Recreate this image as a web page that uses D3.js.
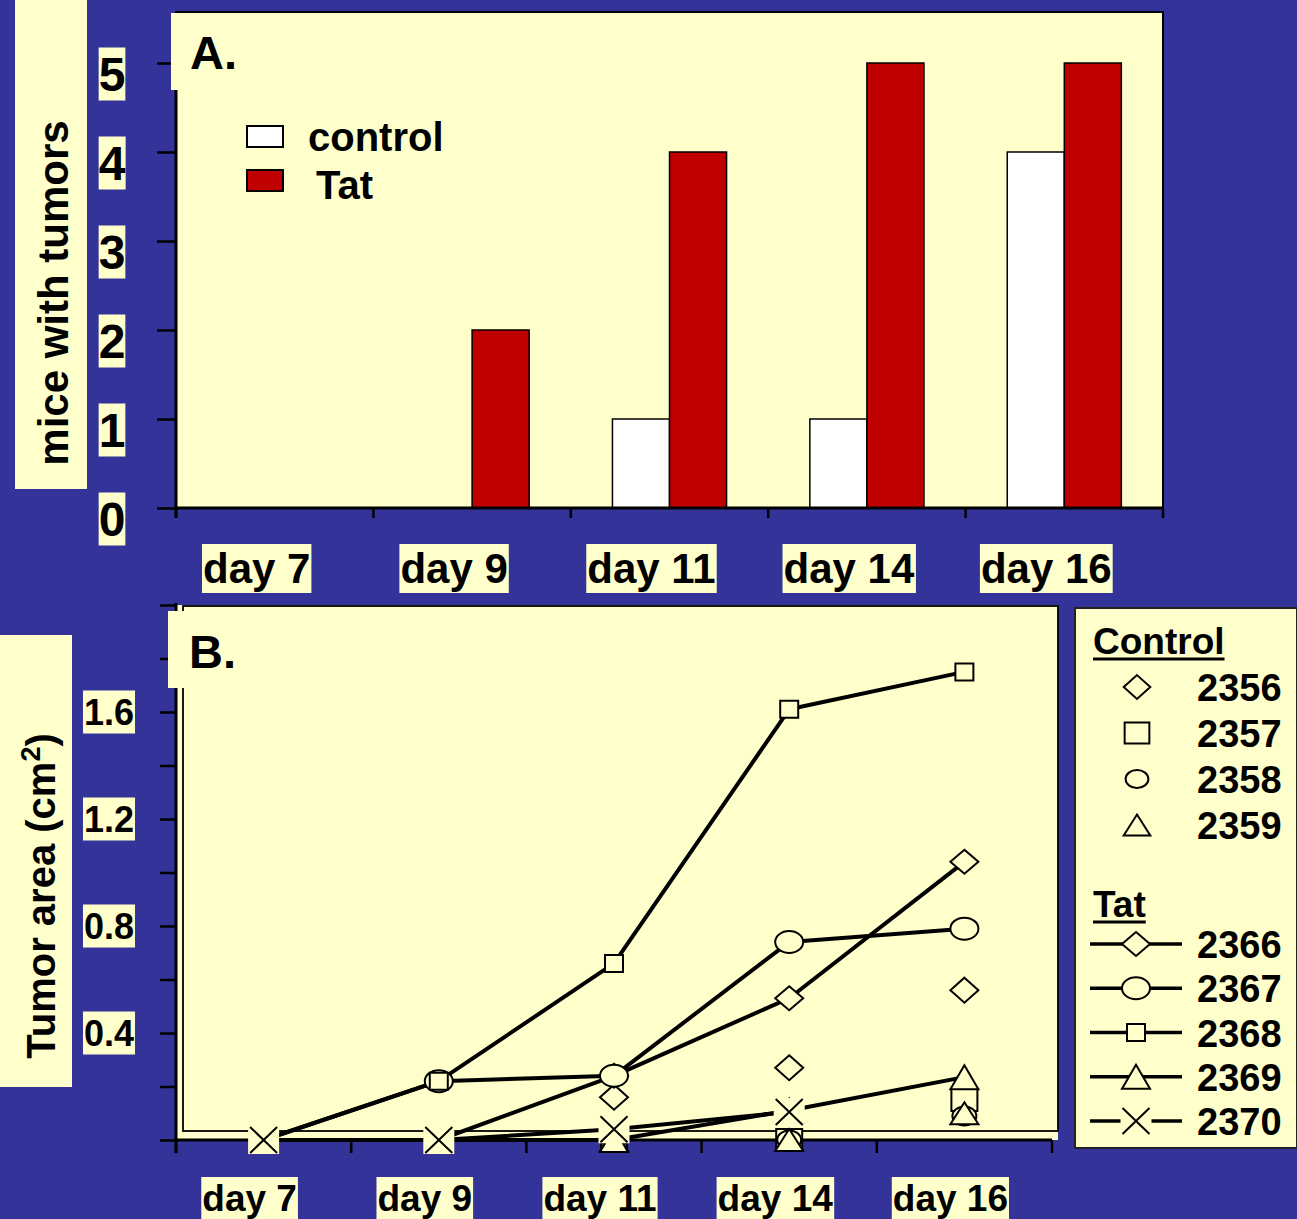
<!DOCTYPE html>
<html><head><meta charset="utf-8">
<script src="https://cdn.jsdelivr.net/npm/d3@7"></script>
<style>body{margin:0;background:#333399;} svg{display:block}</style>
</head><body><svg id="c" width="1297" height="1219"></svg>
<script>
// ---------- DATA ----------
const days = ["day 7", "day 9", "day 11", "day 14", "day 16"];
const barSeries = ["control", "Tat"];
const controlMice = [0, 0, 1, 1, 4];
const tatMice = [0, 2, 4, 5, 5];
const yTicksA = [0, 1, 2, 3, 4, 5];

const controlIds = ["2356", "2357", "2358", "2359"];
const c2356 = [0, 0, 0.16, 0.27, 0.56];
const c2357 = [0, 0, 0, 0, 0.15];
const c2358 = [0, 0, 0, 0, 0.09];
const c2359 = [0, 0, 0, 0, 0.10];
const tatIds = ["2366", "2367", "2368", "2369", "2370"];
const t2366 = [0, 0, 0.24, 0.53, 1.04];
const t2367 = [0, 0.22, 0.24, 0.74, 0.79];
const t2368 = [0, 0.22, 0.66, 1.61, 1.75];
const t2369 = [0, 0, 0, 0.11, 0.235];
const t2370 = [0, 0, 0.04, 0.105, null];
const yTicksB = [0, 0.2, 0.4, 0.6, 0.8, 1.0, 1.2, 1.4, 1.6, 1.8, 2.0];
const yLabelsB = [0.4, 0.8, 1.2, 1.6];

// ---------- STYLE ----------
const BLUE = "#333399", PALE = "#FFFFCC", RED = "#C00000";
const FONT = "'Liberation Sans', Arial, Helvetica, sans-serif";
const markerStyle = {
  "2356": {type: "diamond", w: 28, h: 25},
  "2357": {type: "square", w: 26, h: 22},
  "2358": {type: "circle", w: 24, h: 19},
  "2359": {type: "triangle", w: 28, h: 22},
  "2366": {type: "diamond", w: 28, h: 24},
  "2367": {type: "circle", w: 28, h: 22},
  "2368": {type: "square", w: 18, h: 17},
  "2369": {type: "triangle", w: 28, h: 24},
  "2370": {type: "x", w: 27, h: 26}
};

const svg = d3.select("#c");
svg.append("rect").attr("width", 1297).attr("height", 1219).attr("fill", BLUE);

function boxText(g, x, y, txt, size, opts = {}) {
  const t = g.append("text").attr("x", x).attr("y", y)
    .attr("font-family", FONT).attr("font-weight", "bold").attr("font-size", size)
    .attr("text-anchor", opts.anchor || "middle")
    .attr("fill", "#000").text(txt);
  if (opts.central) t.attr("dominant-baseline", "central");
  const bb = t.node().getBBox();
  const p = opts.pad || [1, 0];
  g.insert("rect", () => t.node())
    .attr("x", bb.x - p[0]).attr("y", bb.y - p[1])
    .attr("width", bb.width + 2 * p[0]).attr("height", bb.height + 2 * p[1])
    .attr("fill", PALE);
  return t;
}

function markerPath(type, w, h) {
  const a = w / 2, b = h / 2;
  switch (type) {
    case "diamond": return `M0,${-b}L${a},0L0,${b}L${-a},0Z`;
    case "square": return `M${-a},${-b}H${a}V${b}H${-a}Z`;
    case "circle": return `M${-a},0A${a},${b} 0 1,0 ${a},0A${a},${b} 0 1,0 ${-a},0Z`;
    case "triangle": return `M0,${-b}L${a},${b}L${-a},${b}Z`;
    case "x": return `M${-a},${-b}L${a},${b}M${a},${-b}L${-a},${b}`;
  }
}
function drawMarker(g, id, x, y, scale = 1) {
  const st = markerStyle[id];
  const m = g.append("g").attr("transform", `translate(${x},${y})`);
  if (st.type === "x") {
    m.append("rect").attr("x", -st.w / 2 - 2).attr("y", -st.h / 2 - 1)
      .attr("width", st.w + 4).attr("height", st.h + 2).attr("fill", PALE);
  }
  m.append("path").attr("d", markerPath(st.type, st.w * scale, st.h * scale))
    .attr("fill", st.type === "x" ? "none" : PALE)
    .attr("stroke", "#000").attr("stroke-width", 2);
  return m;
}

// ================= PANEL A =================
const gA = svg.append("g");
const xA = d3.scaleBand().domain(days).range([176, 1163]);
const xSubA = d3.scaleBand().domain(barSeries).range([0, xA.bandwidth()]).paddingOuter(0.73);
const yA = d3.scaleLinear().domain([0, 5]).range([508, 63]);

// y-label box
gA.append("rect").attr("x", 15).attr("y", 0).attr("width", 72).attr("height", 489).attr("fill", PALE);
gA.append("text").attr("transform", "translate(68,293) rotate(-90)")
  .attr("text-anchor", "middle").attr("font-family", FONT).attr("font-weight", "bold")
  .attr("font-size", 42).text("mice with tumors");

// plot area
gA.append("rect").attr("x", 176).attr("y", 12).attr("width", 987).attr("height", 496)
  .attr("fill", PALE).attr("stroke", "#000").attr("stroke-width", 2);

const barData = days.flatMap((d, i) => [
  {day: d, s: "control", v: controlMice[i]},
  {day: d, s: "Tat", v: tatMice[i]}
]).filter(d => d.v > 0);
gA.selectAll("rect.bar").data(barData).join("rect").attr("class", "bar")
  .attr("x", d => xA(d.day) + xSubA(d.s))
  .attr("y", d => yA(d.v))
  .attr("width", xSubA.bandwidth())
  .attr("height", d => yA(0) - yA(d.v))
  .attr("fill", d => d.s === "Tat" ? RED : "#FFFFFF")
  .attr("stroke", "#000").attr("stroke-width", 1.5);

// y axis A
const axA = gA.append("g").attr("transform", "translate(176,0)")
  .call(d3.axisLeft(yA).tickValues(yTicksA).tickSize(19).tickSizeOuter(0).tickFormat(""));
axA.selectAll("line").attr("stroke", "#000").attr("stroke-width", 2.5);
axA.select(".domain").remove();
gA.append("line").attr("x1", 176).attr("x2", 176).attr("y1", 30).attr("y2", 518)
  .attr("stroke", "#000").attr("stroke-width", 3);
// x axis A
gA.append("line").attr("x1", 176).attr("x2", 1163).attr("y1", 508).attr("y2", 508)
  .attr("stroke", "#000").attr("stroke-width", 3);
const edgesA = days.map(d => xA(d)).concat([xA.range()[1]]);
gA.selectAll("line.xt").data(edgesA).join("line").attr("class", "xt")
  .attr("x1", d => d).attr("x2", d => d).attr("y1", 508).attr("y2", 518)
  .attr("stroke", "#000").attr("stroke-width", 2.5);

// tick labels
yTicksA.forEach(v => boxText(gA, 112, yA(v) + 11, String(v), 48, {central: true, pad: [0, 0]}));
days.forEach(d => boxText(gA, xA(d) + xA.bandwidth() / 2 - 18, 583, d, 42, {pad: [1, 1]}));

// "A." box
gA.append("rect").attr("x", 171).attr("y", 13).attr("width", 87).attr("height", 77).attr("fill", PALE);
gA.append("text").attr("x", 190).attr("y", 69).attr("font-family", FONT).attr("font-weight", "bold")
  .attr("font-size", 47).text("A.");

// legend A
const legA = gA.append("g");
barSeries.forEach((s, i) => {
  const y = 126 + i * 44;
  legA.append("rect").attr("x", 247).attr("y", y).attr("width", 36).attr("height", 21)
    .attr("fill", s === "Tat" ? RED : "#FFFFFF").attr("stroke", "#000").attr("stroke-width", 2);
  legA.append("text").attr("x", s === "Tat" ? 316 : 308).attr("y", s === "Tat" ? y + 29 : y + 25)
    .attr("font-family", FONT).attr("font-weight", "bold").attr("font-size", 40).text(s);
});

// ================= PANEL B =================
const gB = svg.append("g");
const xB = d3.scaleBand().domain(days).range([176, 1052]);
const yB = d3.scaleLinear().domain([0, 2]).range([1140, 605]);
const cx = d => xB(d) + xB.bandwidth() / 2;

// y-label box
gB.append("rect").attr("x", 0).attr("y", 635).attr("width", 72).attr("height", 452).attr("fill", PALE);
const yl = gB.append("text").attr("transform", "translate(55,896) rotate(-90)")
  .attr("text-anchor", "middle").attr("font-family", FONT).attr("font-weight", "bold")
  .attr("font-size", 40);
yl.append("tspan").text("Tumor area (cm");
yl.append("tspan").attr("font-size", 27).attr("dy", -15).text("2");
yl.append("tspan").attr("dy", 15).text(")");

// plot area
gB.append("rect").attr("x", 176).attr("y", 605).attr("width", 882).attr("height", 535).attr("fill", PALE);
gB.append("rect").attr("x", 183).attr("y", 606).attr("width", 875).attr("height", 525)
  .attr("fill", "none").attr("stroke", "#000").attr("stroke-width", 1.8);

// axes B
const axB = gB.append("g").attr("transform", "translate(176,0)")
  .call(d3.axisLeft(yB).tickValues(yTicksB).tickSize(16).tickSizeOuter(0).tickFormat(""));
axB.selectAll("line").attr("stroke", "#000").attr("stroke-width", 2.5);
axB.select(".domain").remove();
gB.append("line").attr("x1", 176).attr("x2", 176).attr("y1", 603).attr("y2", 1153)
  .attr("stroke", "#000").attr("stroke-width", 3);
gB.append("line").attr("x1", 176).attr("x2", 1052).attr("y1", 1140).attr("y2", 1140)
  .attr("stroke", "#000").attr("stroke-width", 3);
const edgesB = days.map(d => xB(d)).concat([xB.range()[1]]);
gB.selectAll("line.xt").data(edgesB).join("line").attr("class", "xt")
  .attr("x1", d => d).attr("x2", d => d).attr("y1", 1140).attr("y2", 1153)
  .attr("stroke", "#000").attr("stroke-width", 2.5);

yLabelsB.forEach(v => boxText(gB, 109, yB(v), v.toFixed(1), 36, {central: true, pad: [1, 1]}));
days.forEach(d => boxText(gB, cx(d) - 14, 1211, d, 37, {pad: [1, 1]}));

// series
const controlVals = [c2356, c2357, c2358, c2359];
const tatVals = [t2366, t2367, t2368, t2369, t2370];
const controlSeries = controlIds.map((id, i) => ({id, values: controlVals[i].map((v, j) => ({day: days[j], v}))}));
const tatSeries = tatIds.map((id, i) => ({id, values: tatVals[i].map((v, j) => ({day: days[j], v}))}));

const line = d3.line().defined(d => d.v != null).x(d => cx(d.day)).y(d => yB(d.v));
gB.selectAll("path.tat").data(tatSeries).join("path").attr("class", "tat")
  .attr("d", d => line(d.values)).attr("fill", "none").attr("stroke", "#000")
  .attr("stroke-width", 4).attr("stroke-linejoin", "round");

const gM = gB.append("g");
controlSeries.concat(tatSeries).forEach(s => {
  s.values.filter(d => d.v != null).forEach(d => drawMarker(gM, s.id, cx(d.day), yB(d.v)));
});

// "B." box
gB.append("rect").attr("x", 168).attr("y", 611).attr("width", 92).attr("height", 77).attr("fill", PALE);
gB.append("text").attr("x", 189).attr("y", 668).attr("font-family", FONT).attr("font-weight", "bold")
  .attr("font-size", 47).text("B.");

// legend B
const legB = svg.append("g");
legB.append("rect").attr("x", 1075).attr("y", 608).attr("width", 222).attr("height", 540)
  .attr("fill", PALE).attr("stroke", "#222").attr("stroke-width", 2);
function legHeader(txt, y) {
  const t = legB.append("text").attr("x", 1093).attr("y", y).attr("font-family", FONT)
    .attr("font-weight", "bold").attr("font-size", 37).text(txt);
  const w = t.node().getComputedTextLength();
  legB.append("line").attr("x1", 1093).attr("x2", 1093 + w).attr("y1", y + 5).attr("y2", y + 5)
    .attr("stroke", "#000").attr("stroke-width", 3);
}
legHeader("Control", 654);
controlIds.forEach((id, i) => {
  const y = 687 + i * 46;
  drawMarker(legB, id, 1137, y, 0.95);
  legB.append("text").attr("x", 1197).attr("y", y + 14).attr("font-family", FONT)
    .attr("font-weight", "bold").attr("font-size", 38).text(id);
});
legHeader("Tat", 917);
tatIds.forEach((id, i) => {
  const y = 944 + i * 44.25;
  legB.append("line").attr("x1", 1090).attr("x2", 1182).attr("y1", y).attr("y2", y)
    .attr("stroke", "#000").attr("stroke-width", 3.5);
  drawMarker(legB, id, 1136, y);
  legB.append("text").attr("x", 1197).attr("y", y + 14).attr("font-family", FONT)
    .attr("font-weight", "bold").attr("font-size", 38).text(id);
});
</script></body></html>
